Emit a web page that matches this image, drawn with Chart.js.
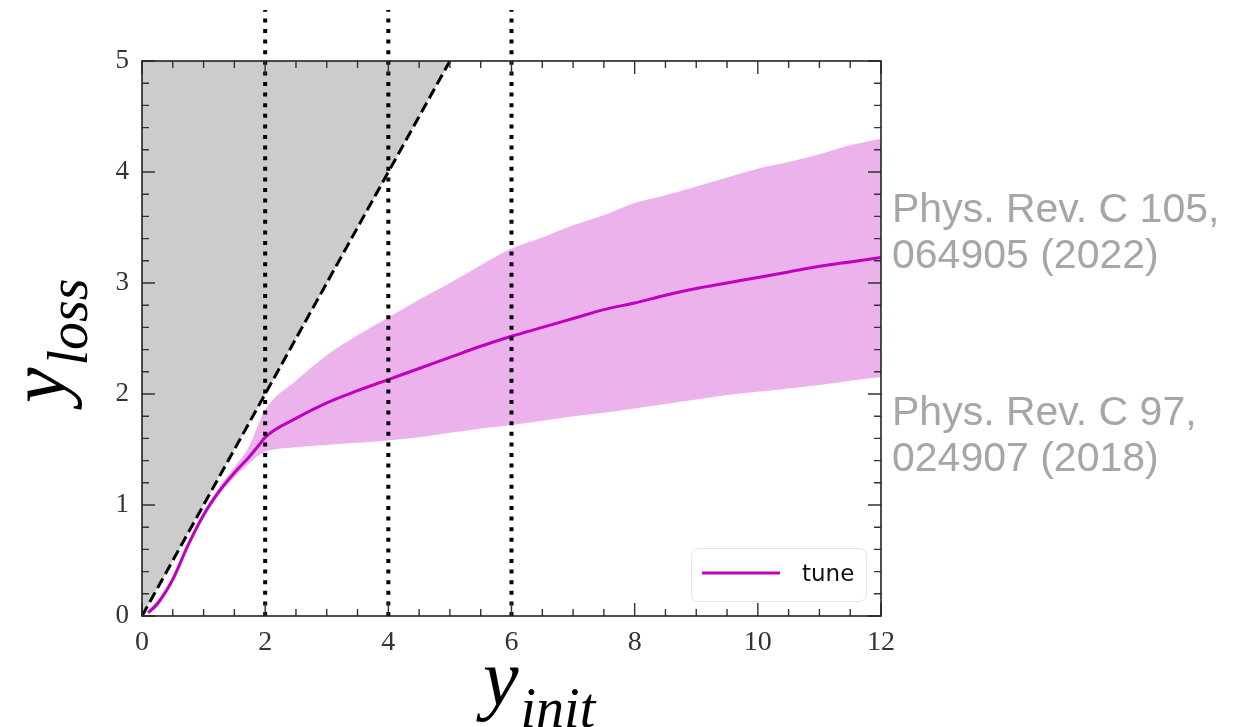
<!DOCTYPE html>
<html>
<head>
<meta charset="utf-8">
<script src="https://cdn.jsdelivr.net/npm/chart.js@4.4.0/dist/chart.umd.min.js"></script>
<style>
  html, body { margin: 0; padding: 0; background: #fff; }
  #wrap { width: 1237px; height: 727px; }
</style>
</head>
<body>
<div id="wrap"><canvas id="lossChart" width="1237" height="727"></canvas></div>
<script>
// values
const yInit     = [0.1, 0.25, 0.5, 0.75, 1.0, 1.25, 1.5, 1.75, 1.9, 2.0, 2.5, 3.0, 3.5, 4.0, 4.5, 5.0, 5.5, 6.0, 6.5, 7.0, 7.5, 8.0, 8.5, 9.0, 9.5, 10.0, 10.5, 11.0, 11.5, 12.0];
const tuneMean  = [0.03, 0.11, 0.33, 0.64, 0.91, 1.12, 1.29, 1.44, 1.54, 1.61, 1.78, 1.92, 2.03, 2.13, 2.23, 2.33, 2.43, 2.52, 2.60, 2.68, 2.76, 2.82, 2.89, 2.95, 3.00, 3.05, 3.10, 3.15, 3.19, 3.23];
const tuneUpper = [0.05, 0.14, 0.36, 0.67, 0.94, 1.16, 1.34, 1.54, 1.74, 1.86, 2.12, 2.35, 2.53, 2.69, 2.85, 3.00, 3.16, 3.31, 3.41, 3.52, 3.61, 3.72, 3.79, 3.87, 3.95, 4.03, 4.09, 4.16, 4.24, 4.30];
const tuneLower = [0.01, 0.08, 0.30, 0.61, 0.88, 1.09, 1.25, 1.38, 1.45, 1.48, 1.52, 1.54, 1.56, 1.58, 1.61, 1.65, 1.69, 1.72, 1.76, 1.80, 1.83, 1.87, 1.91, 1.95, 1.99, 2.02, 2.05, 2.08, 2.12, 2.15];

const diagX = [0, 5];          // y_loss = y_init boundary
const cutX = [2, 4, 6];        // dotted y_init cuts
const cutTop = 5.46;           // dotted lines run above the frame

const xMax = 12, yMax = 5;
const refNotes = [
    ['Phys. Rev. C 105,', '064905 (2022)'],
    ['Phys. Rev. C 97,', '024907 (2018)']
];

const pts = (xs, ys) => xs.map((x, i) => ({ x: x, y: ys[i] }));

const cutSets = cutX.map(cx => ({
    label: 'cut ' + cx,
    data: [{ x: cx, y: 0 }, { x: cx, y: cutTop }],
    borderColor: '#000',
    borderWidth: 4,
    borderDash: [4, 6.6],
    borderCapStyle: 'butt',
    pointRadius: 0,
    fill: false,
    clip: false,
    order: 0
}));

// inward ticks on all four sides plus the frame
const frameTicks = {
    id: 'frameTicks',
    afterDatasetsDraw(chart) {
        const { ctx, chartArea: a, scales: { x, y } } = chart;
        ctx.save();
        ctx.strokeStyle = '#333';
        ctx.lineWidth = 1.4;
        ctx.beginPath();
        for (let i = 0; i <= 24; i++) {
            const px = x.getPixelForValue(i * 0.5);
            const len = i % 4 === 0 ? 13 : 7;
            ctx.moveTo(px, a.bottom); ctx.lineTo(px, a.bottom - len);
            ctx.moveTo(px, a.top); ctx.lineTo(px, a.top + len);
        }
        for (let i = 0; i <= 25; i++) {
            const py = y.getPixelForValue(i * 0.2);
            const len = i % 5 === 0 ? 13 : 7;
            ctx.moveTo(a.left, py); ctx.lineTo(a.left + len, py);
            ctx.moveTo(a.right, py); ctx.lineTo(a.right - len, py);
        }
        ctx.stroke();
        ctx.strokeStyle = '#222';
        ctx.lineWidth = 1.6;
        ctx.strokeRect(a.left, a.top, a.right - a.left, a.bottom - a.top);
        ctx.restore();
    },
    afterDraw(chart) {
        const { ctx, chartArea: a } = chart;
        ctx.save();
        ctx.fillStyle = '#000';
        ctx.textBaseline = 'alphabetic';
        ctx.textAlign = 'left';

        // x title: y_init
        ctx.font = 'italic 80px "Liberation Serif"';
        ctx.fillText('y', 483, 705);
        let w = ctx.measureText('y').width;
        ctx.font = 'italic 56px "Liberation Serif"';
        ctx.fillText('init', 483 + w + 2, 727);

        // y title: y_loss
        ctx.save();
        ctx.translate(65, 403);
        ctx.rotate(-Math.PI / 2);
        ctx.font = 'italic 80px "Liberation Serif"';
        ctx.fillText('y', 0, 0);
        w = ctx.measureText('y').width;
        ctx.font = 'italic 56px "Liberation Serif"';
        ctx.fillText('loss', w + 2, 22);
        ctx.restore();

        // reference notes on the right
        ctx.fillStyle = '#a6a6a6';
        ctx.font = '41px "Liberation Sans"';
        const noteTops = [222, 425];
        refNotes.forEach((lines, k) => {
            lines.forEach((t, j) => ctx.fillText(t, 892, noteTops[k] + j * 46));
        });

        // legend box inside the frame, lower right
        const bw = 175, bh = 53;
        const bx = a.right - 15 - bw, by = a.bottom - 15 - bh;
        ctx.beginPath();
        ctx.roundRect(bx + 0.5, by + 0.5, bw, bh, 7);
        ctx.fillStyle = 'rgba(255,255,255,0.85)';
        ctx.fill();
        ctx.strokeStyle = '#e3e3e3';
        ctx.lineWidth = 1;
        ctx.stroke();
        const mean = chart.data.datasets.find(d => d.label === 'tune');
        ctx.strokeStyle = mean.borderColor;
        ctx.lineWidth = 3;
        ctx.beginPath();
        ctx.moveTo(bx + 11, by + 25);
        ctx.lineTo(bx + 89, by + 25);
        ctx.stroke();
        ctx.fillStyle = '#111';
        ctx.font = '23px "DejaVu Sans"';
        ctx.textBaseline = 'middle';
        ctx.fillText(mean.label, bx + 111, by + 27);
        ctx.restore();
    }
};

new Chart(document.getElementById('lossChart'), {
    type: 'line',
    data: {
        datasets: [
            ...cutSets,
            {
                label: 'diag',
                data: diagX.map(v => ({ x: v, y: v })),
                borderColor: '#000',
                borderWidth: 3,
                borderDash: [11, 5],
                backgroundColor: 'rgba(128,128,128,0.4)',
                fill: 'end',
                pointRadius: 0,
                order: 1
            },
            {
                label: 'tune',
                data: pts(yInit, tuneMean),
                borderColor: '#bf00bf',
                borderWidth: 3,
                pointRadius: 0,
                fill: false,
                cubicInterpolationMode: 'monotone',
                order: 2
            },
            {
                label: 'upper',
                data: pts(yInit, tuneUpper),
                borderWidth: 0,
                borderColor: 'rgba(0,0,0,0)',
                backgroundColor: 'rgba(191,0,191,0.3)',
                pointRadius: 0,
                fill: '+1',
                cubicInterpolationMode: 'monotone',
                order: 3
            },
            {
                label: 'lower',
                data: pts(yInit, tuneLower),
                borderWidth: 0,
                borderColor: 'rgba(0,0,0,0)',
                pointRadius: 0,
                fill: false,
                cubicInterpolationMode: 'monotone',
                order: 4
            }
        ]
    },
    options: {
        responsive: false,
        animation: false,
        devicePixelRatio: 1,
        layout: { padding: { left: 0, right: 356, top: 61, bottom: 0 } },
        plugins: {
            legend: { display: false },
            tooltip: { enabled: false }
        },
        scales: {
            x: {
                type: 'linear',
                min: 0,
                max: xMax,
                grid: { display: false, drawTicks: false },
                border: { display: false },
                ticks: {
                    stepSize: 2,
                    padding: 10,
                    color: '#333',
                    font: { family: 'Liberation Serif', size: 28 }
                },
                afterFit(scale) { scale.height = 111; }
            },
            y: {
                type: 'linear',
                min: 0,
                max: yMax,
                grid: { display: false, drawTicks: false },
                border: { display: false },
                ticks: {
                    stepSize: 1,
                    padding: 13,
                    color: '#333',
                    font: { family: 'Liberation Serif', size: 27 }
                },
                afterFit(scale) { scale.width = 142; }
            }
        }
    },
    plugins: [frameTicks]
});
</script>
</body>
</html>
